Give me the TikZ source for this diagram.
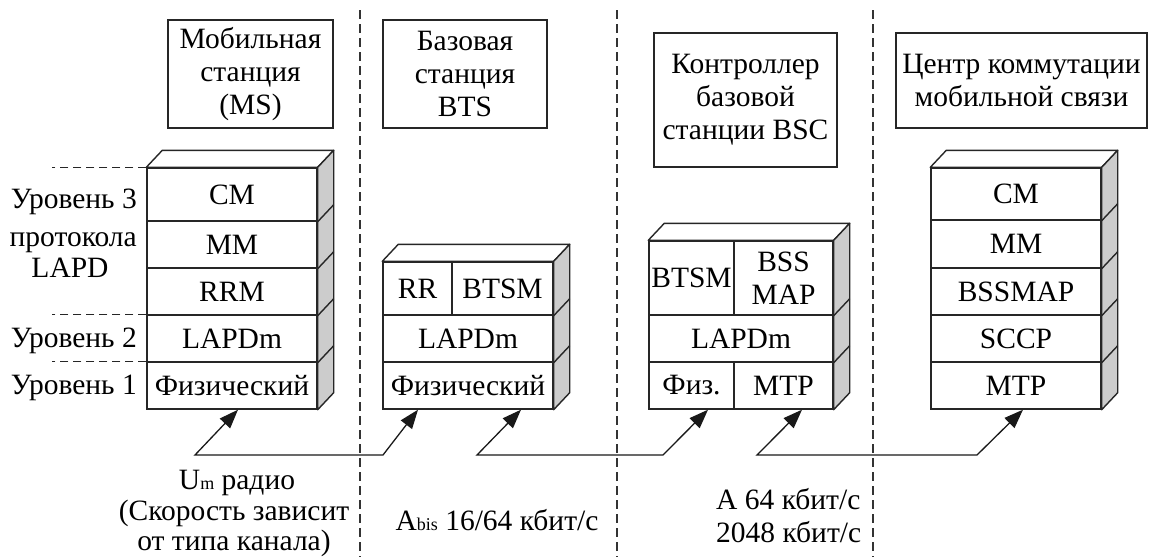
\documentclass[tikz,border=0pt]{standalone}
\usepackage{fontspec}
\setmainfont{Liberation Serif}
\newfontfamily\lserif{Liberation Serif}
\usetikzlibrary{arrows.meta,calc}
\begin{document}
\begin{tikzpicture}[x=1pt,y=-1pt,
  every node/.style={font=\lserif\fontsize{29.5}{33}\selectfont, inner sep=0pt},
  ln/.style={line width=1.4pt, draw=black!85},
  layer/.style={ln, fill=white, minimum height=47pt, align=center},
  titlebox/.style={ln, align=center},
  topface/.style={ln, fill=white, line join=round},
  sideface/.style={ln, fill=black!20, line join=round},
  sepline/.style={line width=1.3pt, draw=black!80, dash pattern=on 9pt off 5pt},
  lvl/.style={line width=1.2pt, draw=black!85, dash pattern=on 8pt off 5pt},
  conn/.style={line width=1.3pt, draw=black!90, {Triangle[length=19pt,width=14pt]}-{Triangle[length=19pt,width=14pt]}}]
\useasboundingbox (0,0) rectangle (1149,557);

% vertical separators
\draw[sepline] (360,10) -- (360,557);
\draw[sepline] (617,10) -- (617,557);
\draw[sepline] (873,10) -- (873,557);

% titles
\node[titlebox, minimum width=165pt, minimum height=108pt] (tms) at (250.5,74) {Мобильная\\станция\\(MS)};
\node[titlebox, minimum width=164pt, minimum height=108pt] (tbts) at (465,74) {Базовая\\станция\\BTS};
\node[titlebox, minimum width=183pt, minimum height=134pt] (tbsc) at (745.5,100) {Контроллер\\базовой\\станции BSC};
\node[titlebox, minimum width=251pt, minimum height=95pt] (tmsc) at (1021.5,80.5) {Центр коммутации\\мобильной связи};

% MS stack
\node[layer, minimum width=170pt, minimum height=53pt] (ms1) at (232,194.5) {CM};
\node[layer, minimum width=170pt] (ms2) at (232,244.5) {MM};
\node[layer, minimum width=170pt] (ms3) at (232,291.5) {RRM};
\node[layer, minimum width=170pt] (ms4) at (232,338.5) {LAPDm};
\node[layer, minimum width=170pt] (ms5) at (232,385.5) {Физический};
\draw[topface] (ms1.north west) -- ++(16,-17) -- ($(ms1.north east)+(16,-17)$) -- (ms1.north east) -- cycle;
\draw[sideface] (ms1.north east) -- ++(16,-17) -- ($(ms5.south east)+(16,-17)$) -- (ms5.south east) -- cycle;
\foreach \n in {ms1,ms2,ms3,ms4} \draw[ln] (\n.south east) -- ++(16,-17);

% BTS stack
\node[layer, minimum width=69pt, minimum height=53pt] (bts1a) at (417.5,288.5) {RR};
\node[layer, minimum width=101pt, minimum height=53pt] (bts1b) at (502.5,288.5) {BTSM};
\node[layer, minimum width=170pt] (bts2) at (468,338.5) {LAPDm};
\node[layer, minimum width=170pt] (bts3) at (468,385.5) {Физический};
\draw[topface] (bts1a.north west) -- ++(16,-17) -- ($(bts1b.north east)+(16,-17)$) -- (bts1b.north east) -- cycle;
\draw[sideface] (bts1b.north east) -- ++(16,-17) -- ($(bts3.south east)+(16,-17)$) -- (bts3.south east) -- cycle;
\foreach \n in {bts1b,bts2} \draw[ln] (\n.south east) -- ++(16,-17);

% BSC stack
\node[layer, minimum width=85pt, minimum height=74pt] (bsc1a) at (691.5,278) {BTSM};
\node[layer, minimum width=99pt, minimum height=74pt] (bsc1b) at (783.5,278) {BSS\\MAP};
\node[layer, minimum width=184pt] (bsc2) at (741,338.5) {LAPDm};
\node[layer, minimum width=85pt] (bsc3a) at (691.5,385.5) {Физ.};
\node[layer, minimum width=99pt] (bsc3b) at (783.5,385.5) {MTP};
\draw[topface] (bsc1a.north west) -- ++(16,-17) -- ($(bsc1b.north east)+(16,-17)$) -- (bsc1b.north east) -- cycle;
\draw[sideface] (bsc1b.north east) -- ++(16,-17) -- ($(bsc3b.south east)+(16,-17)$) -- (bsc3b.south east) -- cycle;
\foreach \n in {bsc1b,bsc2} \draw[ln] (\n.south east) -- ++(16,-17);

% MSC stack
\node[layer, minimum width=170pt, minimum height=52pt] (msc1) at (1016,194) {CM};
\node[layer, minimum width=170pt, minimum height=48pt] (msc2) at (1016,244) {MM};
\node[layer, minimum width=170pt] (msc3) at (1016,291.5) {BSSMAP};
\node[layer, minimum width=170pt] (msc4) at (1016,338.5) {SCCP};
\node[layer, minimum width=170pt] (msc5) at (1016,385.5) {MTP};
\draw[topface] (msc1.north west) -- ++(16,-17) -- ($(msc1.north east)+(16,-17)$) -- (msc1.north east) -- cycle;
\draw[sideface] (msc1.north east) -- ++(16,-17) -- ($(msc5.south east)+(16,-17)$) -- (msc5.south east) -- cycle;
\foreach \n in {msc1,msc2,msc3,msc4} \draw[ln] (\n.south east) -- ++(16,-17);

% level labels
\node[anchor=base east] (lv3) at (137,208) {Уровень 3};
\node[anchor=base east] (lv3b) at (137,246) {протокола};
\node[anchor=base] (lv3c) at (70,277) {LAPD};
\node[anchor=base east] (lv2) at (137,347) {Уровень 2};
\node[anchor=base east] (lv1) at (137,394) {Уровень 1};
\draw[lvl] (ms1.north west) -- ++(-94,0);
\draw[lvl] (ms4.north west) -- ++(-94,0);
\draw[lvl] (ms5.north west) -- ++(-94,0);

% connectors
\coordinate (c1a) at (195,455);
\coordinate (c1b) at (383,455);
\draw[conn] ($(ms5.south)+(6,0)$) -- (c1a) -- (c1b) -- ($(bts3.south)+(-50,0)$);
\coordinate (c2a) at (477,455);
\coordinate (c2b) at (663,455);
\draw[conn] ($(bts3.south)+(53,0)$) -- (c2a) -- (c2b) -- ($(bsc3a.south)+(16.5,0)$);
\coordinate (c3a) at (757,455);
\coordinate (c3b) at (977,455);
\draw[conn] ($(bsc3b.south)+(18.5,0)$) -- (c3a) -- (c3b) -- ($(msc5.south)+(7,0)$);

% interface labels
\node[anchor=base] (um) at (237,489) {U{\fontsize{18}{18}\selectfont m} радио};
\node[anchor=base] (um2) at (234,520) {(Скорость зависит};
\node[anchor=base] (um3) at (234,550) {от типа канала)};
\node[anchor=base] (abis) at (497,530) {A{\fontsize{18}{18}\selectfont bis} 16/64 кбит/с};
\node[anchor=base west] (a1) at (716,509) {A 64 кбит/с};
\node[anchor=base west] (a2) at (716,542) {2048 кбит/с};
\end{tikzpicture}
\end{document}
